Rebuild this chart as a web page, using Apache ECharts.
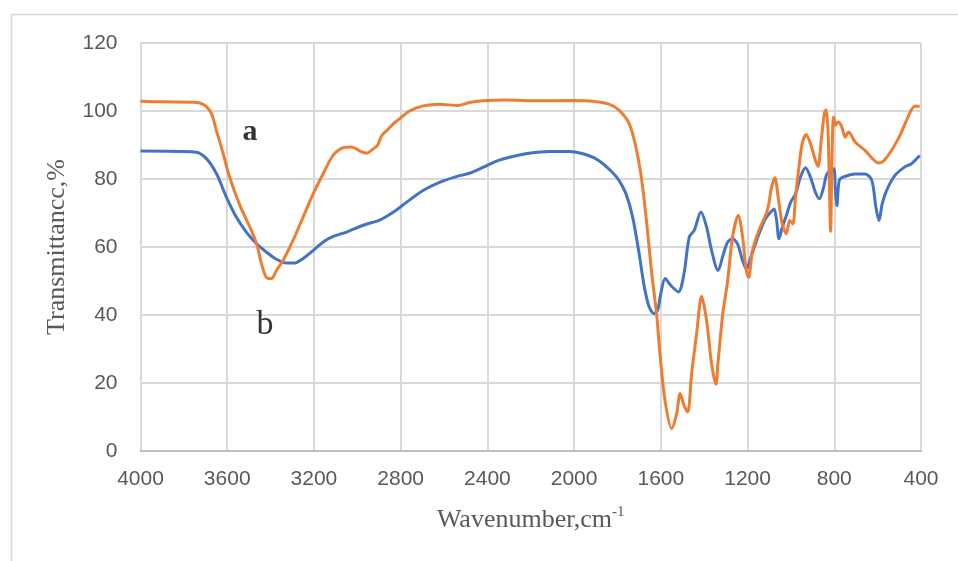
<!DOCTYPE html>
<html>
<head>
<meta charset="utf-8">
<script src="https://cdn.jsdelivr.net/npm/echarts@6/dist/echarts.min.js"></script>
<style>
html,body{margin:0;padding:0;background:#fff;}
#chart{width:958px;height:561px;}
</style>
</head>
<body>
<div id="chart"></div>
<script>
// Wavenumber ticks (cm-1)
const xTicks = [4000, 3600, 3200, 2800, 2400, 2000, 1600, 1200, 800, 400];
const yTicks = [0, 20, 40, 60, 80, 100, 120];

// Series a (orange): wavenumber, transmittance
const waveA = [4000,3900,3750,3704,3673,3650,3619,3589,3542,3496,3465,3442,3419,3396,3373,3342,3296,3250,3203,3157,3111,3065,3026,2988,2957,2926,2907,2887,2860,2833,2805,2759,2697,2621,2536,2483,2421,2314,2161,2008,1916,1839,1792,1746,1715,1688,1665,1642,1619,1604,1581,1550,1527,1511,1493,1476,1458,1435,1412,1389,1366,1346,1337,1315,1292,1269,1243,1223,1208,1195,1177,1147,1109,1089,1074,1059,1040,1021,1006,991,979,963,948,930,910,887,875,860,846,838,829,823,817,811,803,793,783,768,749,734,704,658,627,597,566,505,460,429,406];
const transA = [102.9,102.7,102.6,101.7,99.2,94.3,87.5,80.6,72.3,65.9,61,55.1,51,50.7,53.1,56.1,62,68.8,75.7,81.6,87,89.2,89.4,88.2,87.6,88.9,89.9,92.8,94.5,96.3,97.7,100,101.5,102,101.6,102.5,103,103.2,103,103.1,102.9,102,100.2,96.3,89.4,79.6,66.9,52.2,40,28.6,14.9,6.6,11,16.9,13.4,11.5,22.7,34.5,45.5,38.4,25.7,19.6,25.5,40,50,63,69.3,63,54,51,59,65,70.7,77.6,80.4,74.7,66.8,63.9,67.8,66.8,74.7,83.5,90.4,93.1,90.4,85.5,83.7,91.4,99.2,100.4,94.3,79.6,64.6,84.5,98.2,95.8,96.8,95.8,92.3,93.8,90.9,88.4,86.2,84.7,85.7,91.8,98.2,101.4,101.4];

// Series b (blue)
const waveB = [4000,3743,3696,3650,3604,3558,3512,3465,3419,3373,3327,3288,3250,3203,3157,3111,3049,2972,2895,2833,2772,2697,2621,2544,2483,2421,2360,2284,2207,2115,2023,1947,1885,1824,1792,1761,1730,1700,1676,1654,1631,1615,1600,1580,1554,1519,1493,1469,1446,1415,1389,1366,1336,1311,1292,1269,1246,1223,1205,1185,1147,1117,1094,1078,1066,1055,1040,1021,1001,979,956,933,910,887,869,849,834,803,795,788,777,757,704,658,627,608,594,579,559,521,476,444,406];
const transB = [88.2,87.9,86,81.6,74.7,68.8,64.4,61,58.5,56.4,55.3,55.3,56.6,59,61.5,63.1,64.4,66.4,68,70.3,73.2,76.6,79,80.7,81.7,83.4,85.2,86.6,87.6,88.1,88.1,87.2,85.4,82,79.5,75.7,68.8,58,48.2,42.4,40.4,41.4,46.3,50.7,48.7,46.8,52.2,62.9,64.9,70.3,65.9,59,53.1,58,61.4,62.4,60.9,56,53.5,57,63.9,68.4,70.2,71.2,67.8,62.4,65.8,69.3,73.2,75.6,80.6,83.3,80.6,76.1,74.2,77.6,81.5,83,76.6,72.2,79.6,80.6,81.5,81.5,79.6,71.7,67.8,72.7,76.6,81,83.5,84.5,86.9];

// Curve labels
const labelNames = ['a', 'b'];
const labelWave = [3495, 3426];
const labelTrans = [93.8, 37];

const xName = 'Wavenumber,cm';
const xNameSup = '-1';
const yName = 'Transmittancc,%';

const pairs = (xs, ys) => xs.map((x, i) => [x, ys[i]]);

const chart = echarts.init(document.getElementById('chart'), null, {renderer: 'canvas'});
const gray = '#595959';
const serif = '"Liberation Serif", "Times New Roman", serif';
const sans = '"Liberation Sans", Arial, sans-serif';

chart.setOption({
  animation: false,
  backgroundColor: '#fff',
  graphic: [{
    type: 'rect',
    left: 9, top: 12,
    shape: {width: 960, height: 560},
    style: {fill: 'none', stroke: '#d9d9d9', lineWidth: 1.5},
    silent: true
  }],
  grid: {left: 140.5, right: 37, top: 43, bottom: 110},
  xAxis: {
    type: 'value',
    inverse: true,
    min: 400, max: 4000, interval: 400,
    name: '{n|' + xName + '}{s|' + xNameSup + '}',
    nameLocation: 'middle',
    nameGap: 54,
    nameTextStyle: {
      rich: {
        n: {fontFamily: serif, fontSize: 26, color: gray, lineHeight: 28, verticalAlign: 'bottom'},
        s: {fontFamily: serif, fontSize: 15, color: gray, lineHeight: 28, verticalAlign: 'top'}
      }
    },
    axisLine: {show: true, lineStyle: {color: '#bfbfbf', width: 2}},
    axisTick: {show: false},
    axisLabel: {margin: 18, color: gray, fontFamily: sans, fontSize: 21,
      formatter: v => xTicks.includes(v) ? String(v) : ''},
    splitLine: {show: true, lineStyle: {color: '#d9d9d9', width: 2}}
  },
  yAxis: {
    type: 'value',
    min: 0, max: 120, interval: 20,
    name: yName,
    nameLocation: 'middle',
    nameGap: 70,
    nameTextStyle: {fontFamily: serif, fontSize: 26, color: gray},
    axisLine: {show: true, lineStyle: {color: '#d9d9d9', width: 2}},
    axisTick: {show: false},
    axisLabel: {margin: 23, color: gray, fontFamily: sans, fontSize: 21,
      formatter: v => yTicks.includes(v) ? String(v) : ''},
    splitLine: {show: true, lineStyle: {color: '#d9d9d9', width: 2}}
  },
  series: [
    {
      name: 'b', type: 'line', data: pairs(waveB, transB),
      smooth: 0.3, showSymbol: false,
      lineStyle: {color: '#4472C4', width: 3}, itemStyle: {color: '#4472C4'}
    },
    {
      name: 'a', type: 'line', data: pairs(waveA, transA),
      smooth: 0.3, showSymbol: false,
      lineStyle: {color: '#ED7D31', width: 3}, itemStyle: {color: '#ED7D31'}
    },
    {
      type: 'scatter', symbolSize: 0, silent: true,
      data: labelNames.map((n, i) => ({name: n, value: [labelWave[i], labelTrans[i]],
        label: {fontWeight: n === 'a' ? 'bold' : 'normal', fontSize: n === 'a' ? 30 : 34}})),
      label: {show: true, position: 'inside', formatter: p => p.name,
        color: '#000', fontFamily: serif}
    }
  ]
});
</script>
</body>
</html>
